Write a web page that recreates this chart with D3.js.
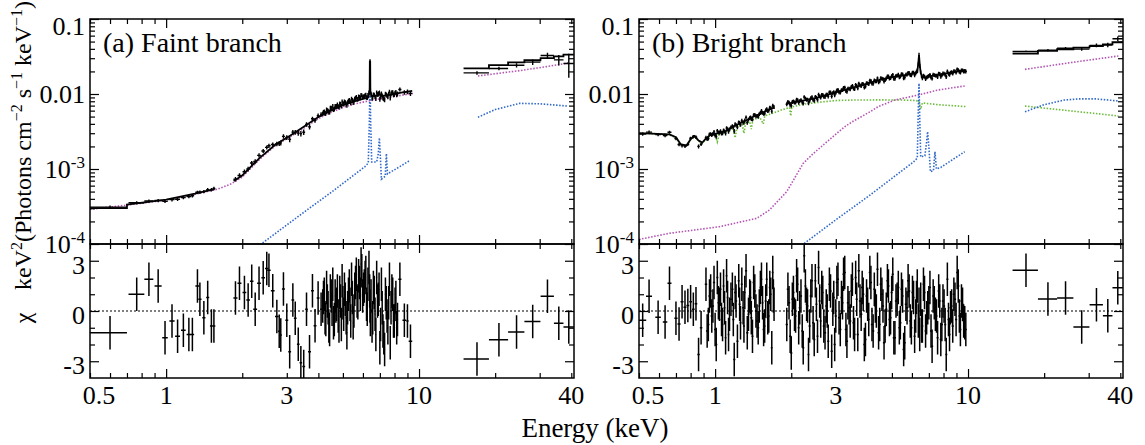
<!DOCTYPE html>
<html>
<head>
<meta charset="utf-8">
<script src="https://cdn.jsdelivr.net/npm/d3@7"></script>
<style>
  body { margin: 0; background: #fff; }
  .serif { font-family: 'Liberation Serif', 'Times New Roman', 'DejaVu Serif', serif; fill: #000; }
</style>
</head>
<body>
<svg id="chart" width="1145" height="445"></svg>
<script>
var FONT = "'Liberation Serif', 'Times New Roman', 'DejaVu Serif', serif";

// axis ranges
var energyDomain = [0.5, 41];
var fluxDomain = [1e-4, 0.1];
var chiDomain = [-4, 4];

// tick labels
var xTickValues = [0.5, 1, 3, 10, 40];
var xTickText = ["0.5", "1", "3", "10", "40"];
var yTickValues = [0.1, 0.01, 1e-3, 1e-4];
var yTickText = [["0.1", ""], ["0.01", ""], ["10", "-3"], ["10", "-4"]];
var chiTickValues = [3, 0, -3];
var chiTickText = ["3", "0", "-3"];

// data rows: [energy, half bin width, flux, flux error, chi]
var faintXisLo = [
  [0.60,0.10,3.1e-4,1.6e-5,-1.3],[0.765,0.055,3.55e-4,1.7e-5,1.0],[0.855,0.035,3.75e-4,1.8e-5,1.9],
  [0.93,0.03,3.8e-4,1.9e-5,1.5],[0.99,0.025,3.7e-4,1.9e-5,-1.6],[1.055,0.025,3.9e-4,2e-5,-0.6],
  [1.11,0.025,3.95e-4,2e-5,-1.5],[1.17,0.025,4.15e-4,2.1e-5,-1.15],[1.23,0.025,4.3e-4,2.2e-5,-1.4],
  [1.27,0.02,4.4e-4,2.3e-5,-1.4],[1.33,0.025,4.9e-4,2.4e-5,1.5],[1.36,0.02,4.9e-4,2.5e-5,0.7],
  [1.41,0.02,5.0e-4,2.6e-5,-0.4],[1.46,0.02,5.3e-4,2.7e-5,0.8],[1.51,0.02,5.3e-4,2.8e-5,-0.9],
  [1.545,0.02,5.5e-4,2.9e-5,-0.9]
];
var faintXisHi = [
  [1.88,0.035,7.3e-4,5e-5,0.77],[1.95,0.035,8.2e-4,5.5e-5,1.66],[2.04,0.035,9.2e-4,6.2e-5,1.1],
  [2.11,0.035,1.0e-3,7e-5,0.66],[2.18,0.035,1.2e-3,7.8e-5,1.77],[2.25,0.04,1.26e-3,8.8e-5,0.11],
  [2.33,0.04,1.52e-3,1e-4,1.66],[2.42,0.04,1.74e-3,1.1e-4,1.99],[2.50,0.04,1.94e-3,1.2e-4,2.54],
  [2.55,0.04,2.04e-3,1.3e-4,2.43],[2.64,0.045,2.12e-3,1.4e-4,1.21],[2.74,0.045,2.16e-3,1.55e-4,-0.33],
  [2.80,0.03,2.18e-3,1.6e-4,-1.21],[2.84,0.03,2.23e-3,1.7e-4,-1.43],[2.91,0.04,2.72e-3,1.8e-4,1.32],
  [3.00,0.04,2.63e-3,1.9e-4,-0.55],[3.08,0.04,2.48e-3,2e-4,-2.43],[3.17,0.04,3.1e-3,2.1e-4,0.66],
  [3.24,0.04,3.08e-3,2.2e-4,-0.44],[3.33,0.04,3.02e-3,2.35e-4,-1.99],[3.41,0.04,2.96e-3,2.45e-4,-3.09],
  [3.50,0.045,3.09e-3,2.6e-4,-3.31],[3.59,0.045,3.92e-3,2.7e-4,0.11],[3.69,0.05,3.65e-3,2.9e-4,-2.43],
  [3.79,0.05,4.67e-3,3.1e-4,1.21],[3.88,0.05,4.45e-3,3.25e-4,-0.88],[3.99,0.05,5.14e-3,3.5e-4,0.77],
  [4.10,0.04,5.33e-3,3.7e-4,0.11],[4.16,0.03,5.48e-3,3.8e-4,0.3],[4.22,0.03,5.83e-3,3.9e-4,1.0],
  [4.28,0.03,5.56e-3,4e-4,-0.5],[4.34,0.03,6.03e-3,4.1e-4,0.6],[4.40,0.03,5.73e-3,4.2e-4,-0.9],
  [4.46,0.03,6.52e-3,4.3e-4,1.2],[4.53,0.03,6.33e-3,4.4e-4,0.1],[4.59,0.03,6.22e-3,4.5e-4,-0.7],
  [4.66,0.035,6.9e-3,4.6e-4,0.9],[4.72,0.035,6.88e-3,4.7e-4,0.4],[4.79,0.035,6.8e-3,4.8e-4,-0.3],
  [4.86,0.035,7.44e-3,4.9e-4,1.1],[4.93,0.035,6.91e-3,5e-4,-0.8],[5.00,0.035,7.53e-3,5.1e-4,0.5],
  [5.07,0.035,7.93e-3,5.2e-4,1.3],[5.15,0.04,7.4e-3,5.3e-4,-0.4],[5.22,0.04,7.73e-3,5.35e-4,0.2],
  [5.30,0.04,8.33e-3,5.4e-4,1.5],[5.37,0.04,7.61e-3,5.5e-4,-0.6],[5.45,0.04,8.27e-3,5.6e-4,0.8],
  [5.53,0.04,8.05e-3,5.6e-4,0.0],[5.61,0.04,8.84e-3,5.7e-4,1.7],[5.69,0.04,8.5e-3,5.8e-4,0.6],
  [5.77,0.04,9.23e-3,5.8e-4,2.1],[5.86,0.045,8.87e-3,5.9e-4,1.0],[5.94,0.045,9.58e-3,6e-4,2.4],
  [6.03,0.045,9.21e-3,6.1e-4,1.3],[6.12,0.045,9.63e-3,6.1e-4,2.0],[6.20,0.04,9.03e-3,6.2e-4,0.4],
  [6.28,0.04,9.67e-3,6.3e-4,1.6],[6.34,0.02,1.05e-2,6.5e-4,2.6],[6.38,0.02,1.11e-2,7e-4,1.2],
  [6.40,0.01,2.74e-2,1.6e-3,0.3],[6.42,0.02,1.12e-2,7.5e-4,-0.5],[6.46,0.02,9.82e-3,6.6e-4,0.9],
  [6.52,0.04,8.79e-3,6.4e-4,-0.9],[6.60,0.045,9.84e-3,6.4e-4,1.4],[6.70,0.05,9.21e-3,6.5e-4,-0.2],
  [6.80,0.05,1.045e-2,6.6e-4,2.0],[6.90,0.05,1.004e-2,6.8e-4,0.7],[7.00,0.05,8.54e-3,6.7e-4,-2.2],
  [7.10,0.05,1.015e-2,6.6e-4,1.6],[7.20,0.05,8.84e-3,6.6e-4,-1.2],[7.31,0.055,8.41e-3,6.6e-4,-2.3],
  [7.42,0.055,9.84e-3,6.7e-4,0.5],[7.53,0.055,9.22e-3,6.8e-4,-1.0],[7.64,0.055,1.073e-2,6.9e-4,1.9],
  [7.75,0.055,9.99e-3,6.9e-4,0.2],[7.87,0.06,1.05e-2,7e-4,1.0],[7.98,0.06,9.8e-3,7.1e-4,-0.6],
  [8.10,0.06,1.061e-2,7.1e-4,0.8],[8.22,0.06,1.004e-2,7.2e-4,-0.5],[8.40,0.12,1.15e-2,7.4e-4,1.9],
  [8.75,0.15,1.05e-2,7.6e-4,-0.55],[9.00,0.1,1.07e-2,7.7e-4,-0.6],[9.25,0.15,1.02e-2,7.8e-4,-1.8]
];
var faintXisHiB = [
  [4.19,0.03,5.72e-3,3.85e-4,0.8],[4.25,0.03,5.49e-3,3.9e-4,-0.4],[4.31,0.03,6.21e-3,4.05e-4,1.4],
  [4.37,0.03,5.96e-3,4.1e-4,0.2],[4.43,0.03,5.76e-3,4.25e-4,-1.1],[4.495,0.03,6.53e-3,4.4e-4,0.9],
  [4.56,0.03,6.91e-3,4.5e-4,1.6],[4.625,0.03,6.34e-3,4.55e-4,-0.5],[4.69,0.035,6.8e-3,4.7e-4,0.3],
  [4.755,0.035,7.21e-3,4.75e-4,1.2],[4.825,0.035,6.69e-3,4.9e-4,-0.9],[4.895,0.035,7.31e-3,5e-4,0.6],
  [4.965,0.035,7.96e-3,5.1e-4,1.8],[5.035,0.035,7.33e-3,5.2e-4,-0.2],[5.11,0.04,7.76e-3,5.25e-4,0.7],
  [5.185,0.04,7.11e-3,5.3e-4,-1.3],[5.26,0.04,8.09e-3,5.4e-4,1.0],[5.335,0.04,7.96e-3,5.45e-4,0.4],
  [5.41,0.04,8.65e-3,5.5e-4,1.9],[5.49,0.04,7.72e-3,5.6e-4,-0.7],[5.57,0.04,8.63e-3,5.7e-4,1.3],
  [5.65,0.04,9.1e-3,5.75e-4,2.2],[5.73,0.04,8.51e-3,5.8e-4,0.5],[5.815,0.045,9.11e-3,5.9e-4,1.7],
  [5.90,0.045,9.69e-3,5.95e-4,2.8],[5.985,0.045,8.99e-3,6e-4,0.9],[6.075,0.045,9.35e-3,6.1e-4,1.5],
  [6.16,0.04,9.81e-3,6.15e-4,2.3],[6.24,0.04,8.94e-3,6.2e-4,0.1],[6.56,0.045,9.02e-3,6.45e-4,-0.4],
  [6.65,0.045,9.76e-3,6.5e-4,1.1],[6.75,0.05,8.74e-3,6.6e-4,-1.4],[6.85,0.05,9.89e-3,6.7e-4,0.6],
  [6.95,0.05,1.028e-2,6.75e-4,1.3],[7.05,0.05,9.12e-3,6.65e-4,-0.8],[7.15,0.05,9.49e-3,6.6e-4,0.2],
  [7.255,0.055,8.69e-3,6.6e-4,-1.6],[7.365,0.055,1.003e-2,6.7e-4,1.0],[7.475,0.055,9.51e-3,6.75e-4,-0.3],
  [7.585,0.055,1.0e-2,6.8e-4,0.5],[7.695,0.055,8.91e-3,6.9e-4,-1.9],[7.81,0.06,1.055e-2,7e-4,1.2],
  [7.925,0.06,9.75e-3,7e-4,-0.6],[8.04,0.06,1.035e-2,7.1e-4,0.4],[8.16,0.06,9.74e-3,7.2e-4,-1.0]
];
var faintHxd = [
  [16.95,1.95,0.0191,0.001,-2.87],[20.7,1.8,0.0219,0.0012,-1.72],[24.3,1.8,0.0242,0.0016,-1.26],
  [28.15,2.05,0.0266,0.0022,-0.62],[32.2,1.95,0.0326,0.003,0.88],[35.7,1.55,0.0285,0.0045,-0.73],
  [39.1,1.85,0.0255,0.009,-0.95]
];
var faintHxdModel = [0.022, 0.0242, 0.0264, 0.0282, 0.030, 0.0318, 0.0335];

var brightXisLo = [
  [0.517,0.017,2.92e-3,1.5e-4,-0.55],[0.548,0.015,3.1e-3,1.5e-4,0.88],[0.595,0.015,2.87e-3,1.45e-4,-0.38],
  [0.634,0.013,2.8e-3,1.45e-4,-0.66],[0.66,0.012,3.09e-3,1.45e-4,1.66],[0.70,0.01,2.55e-3,1.35e-4,-0.44],
  [0.72,0.01,2.12e-3,1.15e-4,-0.77],[0.74,0.01,2.05e-3,1.1e-4,0.55],[0.76,0.01,2.02e-3,1.1e-4,0.22],
  [0.78,0.01,2.13e-3,1.1e-4,0.33],[0.80,0.01,2.57e-3,1.3e-4,0.55],[0.82,0.01,2.71e-3,1.4e-4,0.11],
  [0.84,0.01,2.66e-3,1.4e-4,0.44],[0.86,0.01,2.0e-3,1.2e-4,-2.6],[0.88,0.01,2.14e-3,1.2e-4,-1.0],
  [0.92,0.01,2.62e-3,1.5e-4,1.6],[0.94,0.01,2.55e-3,1.6e-4,-0.8],[0.96,0.01,2.92e-3,1.7e-4,1.2],
  [0.98,0.01,2.93e-3,1.75e-4,0.3],[1.00,0.01,2.81e-3,1.8e-4,-1.1],[1.02,0.01,3.24e-3,1.8e-4,2.0],
  [1.04,0.01,3.05e-3,1.8e-4,0.4],[1.06,0.01,2.99e-3,1.85e-4,-0.5],[1.08,0.01,3.29e-3,1.9e-4,1.5],
  [1.10,0.01,2.99e-3,1.95e-4,-1.6],[1.12,0.01,3.40e-3,2e-4,0.8],[1.14,0.01,3.37e-3,2.05e-4,-0.2],
  [1.17,0.012,3.75e-3,2.15e-4,1.3],[1.19,0.012,3.2e-3,2.2e-4,-2.9],[1.21,0.012,3.84e-3,2.25e-4,0.6],
  [1.24,0.012,4.2e-3,2.35e-4,1.8],[1.26,0.012,3.89e-3,2.4e-4,-0.7],[1.29,0.012,4.18e-3,2.5e-4,0.2],
  [1.31,0.012,4.45e-3,2.55e-4,1.1],[1.34,0.014,4.17e-3,2.65e-4,-1.3],[1.37,0.014,4.77e-3,2.75e-4,0.9],
  [1.39,0.014,4.63e-3,2.8e-4,-0.4],[1.42,0.014,5.23e-3,2.95e-4,1.7],[1.45,0.014,5.05e-3,3e-4,0.0],
  [1.48,0.014,4.99e-3,3.1e-4,-1.0],[1.51,0.014,5.61e-3,3.2e-4,1.4],[1.54,0.014,5.6e-3,3.3e-4,0.5],
  [1.57,0.015,5.5e-3,3.4e-4,-0.9],[1.60,0.015,6.3e-3,3.55e-4,1.9],[1.63,0.015,6.05e-3,3.65e-4,-0.3],
  [1.66,0.015,6.5e-3,3.8e-4,1.0],[1.69,0.015,7.0e-3,3.9e-4,2.3],[1.71,0.01,6.7e-3,4e-4,0.4]
];
var brightXisLoB = [
  [0.93,0.01,2.52e-3,1.6e-4,-1.2],[0.95,0.01,2.9e-3,1.7e-4,0.9],[0.97,0.01,2.84e-3,1.7e-4,-0.3],
  [0.99,0.01,3.13e-3,1.75e-4,1.7],[1.01,0.01,2.72e-3,1.8e-4,-2.0],[1.03,0.01,3.06e-3,1.8e-4,0.5],
  [1.05,0.01,3.21e-3,1.85e-4,1.3],[1.07,0.01,3.0e-3,1.85e-4,-0.8],[1.09,0.01,3.18e-3,1.9e-4,0.2],
  [1.11,0.01,3.52e-3,1.95e-4,2.1],[1.13,0.01,3.16e-3,2e-4,-1.4],[1.155,0.012,3.6e-3,2.1e-4,0.7],
  [1.18,0.012,3.58e-3,2.2e-4,-0.5],[1.20,0.012,3.97e-3,2.3e-4,1.1],[1.225,0.012,3.62e-3,2.35e-4,-1.8],
  [1.25,0.012,4.11e-3,2.4e-4,0.4],[1.275,0.012,4.42e-3,2.5e-4,1.6],[1.30,0.012,4.15e-3,2.6e-4,-0.9],
  [1.325,0.013,4.88e-3,2.7e-4,2.4],[1.355,0.013,4.56e-3,2.75e-4,-0.2],[1.38,0.013,4.9e-3,2.85e-4,0.8],
  [1.405,0.014,4.61e-3,2.95e-4,-1.5],[1.435,0.014,5.29e-3,3e-4,1.2],[1.465,0.014,5.08e-3,3.1e-4,-0.6],
  [1.495,0.014,5.41e-3,3.2e-4,0.3],[1.525,0.014,5.97e-3,3.3e-4,1.9],[1.555,0.015,5.45e-3,3.4e-4,-1.1],
  [1.585,0.015,6.04e-3,3.5e-4,0.6],[1.615,0.015,5.95e-3,3.6e-4,-0.4],[1.645,0.015,6.6e-3,3.75e-4,1.4],
  [1.675,0.015,5.88e-3,3.9e-4,-2.2],[1.70,0.01,6.79e-3,3.9e-4,0.9]
];
var brightXisHi = [
  [1.92,0.02,7.3e-3,4.5e-4,-0.8],[1.96,0.02,7.7e-3,4.5e-4,0.5],[2.00,0.02,7.0e-3,4.6e-4,-2.5],
  [2.04,0.02,8.0e-3,4.6e-4,1.1],[2.08,0.02,7.7e-3,4.7e-4,-0.3],[2.12,0.02,8.3e-3,4.75e-4,1.6],
  [2.16,0.02,8.05e-3,4.8e-4,0.2],[2.21,0.022,7.8e-3,4.85e-4,-1.2],[2.25,0.022,9.1e-3,4.9e-4,3.3],
  [2.30,0.022,8.4e-3,5e-4,0.4],[2.34,0.022,7.6e-3,5e-4,-2.6],[2.39,0.024,8.8e-3,5.1e-4,0.9],
  [2.44,0.024,8.4e-3,5.15e-4,-0.7],[2.49,0.024,9.2e-3,5.2e-4,1.8],[2.54,0.024,8.4e-3,5.35e-4,-1.5],
  [2.59,0.025,9.3e-3,5.45e-4,0.6],[2.64,0.025,9.75e-3,5.6e-4,1.4],[2.69,0.026,9.2e-3,5.7e-4,-0.9],
  [2.75,0.027,9.8e-3,5.8e-4,0.3],[2.80,0.028,9.3e-3,5.95e-4,-1.8],[2.86,0.03,1.05e-2,6e-4,1.2],
  [2.92,0.03,1.03e-2,6.2e-4,0.1],[2.97,0.03,9.7e-3,6.25e-4,-2.0],[3.03,0.03,1.12e-2,6.35e-4,1.7],
  [3.09,0.03,1.06e-2,6.5e-4,-0.4],[3.16,0.032,1.13e-2,6.6e-4,0.8],[3.22,0.032,1.21e-2,6.7e-4,2.2],
  [3.29,0.034,1.10e-2,6.85e-4,-1.1],[3.35,0.034,1.18e-2,7e-4,0.5],[3.42,0.035,1.16e-2,7.1e-4,-0.6],
  [3.49,0.035,1.29e-2,7.25e-4,1.9],[3.56,0.035,1.17e-2,7.4e-4,-1.4],[3.63,0.036,1.28e-2,7.5e-4,0.7],
  [3.70,0.038,1.38e-2,7.6e-4,2.4],[3.78,0.04,1.28e-2,7.75e-4,-0.2],[3.85,0.04,1.36e-2,7.9e-4,1.0],
  [3.93,0.04,1.26e-2,8e-4,-1.7],[4.01,0.04,1.39e-2,8.2e-4,0.4],[4.09,0.04,1.51e-2,8.4e-4,2.3],
  [4.17,0.042,1.38e-2,8.5e-4,-0.8],[4.26,0.044,1.52e-2,8.7e-4,1.3],[4.34,0.044,1.48e-2,8.9e-4,0.0],
  [4.43,0.045,1.44e-2,9.05e-4,-1.3],[4.52,0.045,1.63e-2,9.25e-4,1.6],[4.61,0.046,1.59e-2,9.4e-4,0.3],
  [4.70,0.048,1.54e-2,9.55e-4,-0.9],[4.80,0.05,1.72e-2,9.7e-4,1.8],[4.89,0.05,1.61e-2,9.85e-4,-0.5],
  [4.99,0.05,1.73e-2,1e-3,1.1],[5.09,0.05,1.60e-2,1.01e-3,-1.6],[5.19,0.052,1.75e-2,1.03e-3,0.6],
  [5.30,0.054,1.81e-2,1.04e-3,1.4],[5.40,0.055,1.71e-2,1.05e-3,-0.7],[5.51,0.056,1.83e-2,1.06e-3,0.9],
  [5.62,0.057,1.67e-2,1.07e-3,-1.9],[5.74,0.058,1.82e-2,1.09e-3,0.2],[5.85,0.06,1.91e-2,1.1e-3,1.2],
  [5.97,0.06,1.78e-2,1.11e-3,-1.0],[6.09,0.06,1.93e-2,1.13e-3,0.8],[6.21,0.05,1.89e-2,1.15e-3,-0.3],
  [6.30,0.035,2.06e-2,1.2e-3,1.5],[6.36,0.025,2.50e-2,1.5e-3,-0.6],[6.40,0.02,3.35e-2,2e-3,0.4],
  [6.44,0.025,2.38e-2,1.5e-3,-1.4],[6.50,0.04,1.95e-2,1.15e-3,0.7],[6.60,0.06,1.63e-2,1.0e-3,-0.9],
  [6.73,0.065,1.71e-2,1e-3,1.1],[6.86,0.065,1.66e-2,1e-3,-0.4],[7.00,0.07,1.74e-2,1.03e-3,0.5],
  [7.14,0.07,1.66e-2,1.04e-3,-1.2],[7.28,0.07,1.81e-2,1.05e-3,0.9],[7.43,0.075,1.76e-2,1.06e-3,-0.2],
  [7.58,0.075,1.69e-2,1.07e-3,-1.6],[7.73,0.075,1.85e-2,1.09e-3,0.6],[7.88,0.08,1.78e-2,1.1e-3,-0.8],
  [8.04,0.08,1.87e-2,1.11e-3,0.3],[8.20,0.08,1.70e-2,1.12e-3,-2.6],[8.37,0.085,1.86e-2,1.13e-3,-0.5],
  [8.53,0.085,1.93e-2,1.15e-3,0.2],[8.70,0.09,1.88e-2,1.16e-3,-0.9],[8.88,0.09,2.01e-2,1.18e-3,0.7],
  [9.06,0.09,2.14e-2,1.19e-3,2.3],[9.24,0.09,1.98e-2,1.2e-3,-0.3],[9.42,0.095,2.07e-2,1.22e-3,0.6],
  [9.61,0.095,2.00e-2,1.23e-3,-0.6],[9.80,0.1,2.00e-2,1.25e-3,-1.1]
];
var brightXisHiB = [
  [1.94,0.02,7.89e-3,4.5e-4,1.3],[1.98,0.02,7.2e-3,4.6e-4,-1.5],[2.02,0.02,7.84e-3,4.6e-4,0.7],
  [2.06,0.02,7.7e-3,4.65e-4,-0.2],[2.10,0.02,8.43e-3,4.7e-4,2.1],[2.14,0.02,7.67e-3,4.8e-4,-1.0],
  [2.185,0.022,8.3e-3,4.8e-4,0.9],[2.23,0.022,7.52e-3,4.9e-4,-2.2],[2.275,0.022,8.68e-3,5e-4,1.5],
  [2.32,0.022,8.44e-3,5e-4,0.3],[2.365,0.024,8.18e-3,5.1e-4,-0.9],[2.415,0.024,9.09e-3,5.1e-4,1.8],
  [2.465,0.024,8.14e-3,5.2e-4,-1.7],[2.515,0.024,8.92e-3,5.3e-4,0.4],[2.565,0.025,9.82e-3,5.4e-4,2.6],
  [2.615,0.025,9.0e-3,5.5e-4,-0.6],[2.665,0.025,9.76e-3,5.6e-4,1.1],[2.72,0.027,9.16e-3,5.8e-4,-1.3],
  [2.775,0.027,9.8e-3,5.9e-4,0.0],[2.83,0.028,1.056e-2,6e-4,1.6],[2.89,0.03,9.34e-3,6.1e-4,-2.4],
  [2.945,0.03,1.064e-2,6.2e-4,0.8],[3.0,0.03,1.039e-2,6.3e-4,-0.3],[3.06,0.03,1.141e-2,6.4e-4,1.9],
  [3.125,0.032,1.048e-2,6.5e-4,-1.1],[3.19,0.032,1.129e-2,6.7e-4,0.5],[3.255,0.034,1.221e-2,6.8e-4,2.3],
  [3.32,0.034,1.078e-2,6.9e-4,-1.8],[3.385,0.035,1.178e-2,7e-4,0.2],[3.455,0.035,1.245e-2,7.2e-4,1.2],
  [3.525,0.035,1.19e-2,7.3e-4,-0.7],[3.595,0.036,1.327e-2,7.4e-4,2.0],[3.665,0.037,1.198e-2,7.6e-4,-1.4],
  [3.74,0.038,1.307e-2,7.7e-4,0.6],[3.815,0.04,1.364e-2,7.8e-4,1.4],[3.89,0.04,1.232e-2,8e-4,-2.0],
  [3.97,0.04,1.393e-2,8.1e-4,0.9],[4.05,0.04,1.361e-2,8.3e-4,-0.5],[4.13,0.042,1.494e-2,8.5e-4,1.7],
  [4.215,0.043,1.375e-2,8.6e-4,-1.2],[4.30,0.044,1.48e-2,8.8e-4,0.3],[4.385,0.045,1.626e-2,9e-4,2.5],
  [4.475,0.045,1.482e-2,9.2e-4,-0.8],[4.565,0.046,1.609e-2,9.3e-4,1.0],[4.655,0.047,1.475e-2,9.5e-4,-1.9],
  [4.75,0.048,1.61e-2,9.6e-4,0.1],[4.845,0.05,1.716e-2,9.8e-4,1.5],[4.94,0.05,1.632e-2,9.9e-4,-0.4],
  [5.04,0.05,1.809e-2,1e-3,2.2],[5.14,0.051,1.605e-2,1.02e-3,-1.6],[5.245,0.053,1.762e-2,1.03e-3,0.7],
  [5.35,0.054,1.679e-2,1.04e-3,-1.0],[5.455,0.055,1.84e-2,1.06e-3,1.3],[5.565,0.056,1.628e-2,1.06e-3,-2.3],
  [5.68,0.057,1.815e-2,1.07e-3,0.4],[5.795,0.058,1.924e-2,1.09e-3,1.8],[5.91,0.06,1.792e-2,1.1e-3,-0.6],
  [6.03,0.06,1.932e-2,1.12e-3,1.1],[6.15,0.06,1.791e-2,1.13e-3,-1.5],[6.255,0.045,1.984e-2,1.16e-3,0.8],
  [6.55,0.05,1.724e-2,1.07e-3,-0.9],[6.665,0.06,1.764e-2,1e-3,1.6],[6.795,0.065,1.59e-2,1e-3,-1.2],
  [6.93,0.065,1.702e-2,1.01e-3,0.2],[7.07,0.07,1.804e-2,1.03e-3,1.4],[7.21,0.07,1.612e-2,1.04e-3,-2.1],
  [7.355,0.072,1.791e-2,1.06e-3,0.5],[7.505,0.075,1.761e-2,1.07e-3,-0.3],[7.655,0.075,1.876e-2,1.08e-3,1.2],
  [7.805,0.078,1.712e-2,1.09e-3,-1.7],[7.96,0.08,1.879e-2,1.1e-3,0.6],[8.12,0.08,1.808e-2,1.12e-3,-0.8],
  [8.285,0.082,2.005e-2,1.13e-3,1.9],[8.45,0.085,1.816e-2,1.15e-3,-1.4],[8.615,0.086,1.95e-2,1.16e-3,0.3],
  [8.79,0.088,2.018e-2,1.17e-3,1.0],[8.97,0.09,1.936e-2,1.18e-3,-0.5],[9.15,0.09,2.094e-2,1.19e-3,1.5],
  [9.33,0.09,1.933e-2,1.2e-3,-1.1],[9.515,0.095,2.069e-2,1.22e-3,0.4],[9.705,0.095,2.01e-2,1.24e-3,-0.7]
];
var brightHxd = [
  [16.95,1.95,0.0369,0.001,2.43],[20.7,1.8,0.0384,0.0013,0.71],[24.3,1.8,0.0407,0.0016,0.77],
  [28.15,2.05,0.0396,0.002,-0.95],[32.2,1.95,0.0445,0.0025,0.38],[35.7,1.55,0.0451,0.003,-0.29],
  [39.1,1.85,0.0546,0.004,1.39]
];
var brightHxdModel = [0.0345, 0.0375, 0.0395, 0.0415, 0.0435, 0.046, 0.049];

// total model through the XIS band: [energy, flux]
var faintTotalLo = [[0.5,3.0e-4],[0.7,3.0e-4],[0.7,3.35e-4],[1.0,3.9e-4],[1.3,4.7e-4],[1.55,5.4e-4]];
var faintTotalHi = [
  [1.85,6.9e-4],[2.0,8.2e-4],[2.35,1.42e-3],[2.7,2.1e-3],[3.1,2.8e-3],[3.5,3.65e-3],[4.0,4.95e-3],
  [4.5,6.05e-3],[5.0,7.1e-3],[5.5,7.9e-3],[6.0,8.6e-3],[6.3,9.0e-3],[6.38,1.1e-2],[6.39,2.7e-2],
  [6.41,2.7e-2],[6.42,1.1e-2],[6.5,9.4e-3],[6.9,9.5e-3],[6.97,1.05e-2],[7.05,9.4e-3],[7.5,9.6e-3],
  [8.5,1.04e-2],[9.4,1.1e-2]
];
var brightTotalLo = [
  [0.5,3.0e-3],[0.66,2.9e-3],[0.7,2.65e-3],[0.73,2.15e-3],[0.77,2.05e-3],[0.8,2.5e-3],[0.83,2.75e-3],
  [0.86,2.4e-3],[0.89,2.25e-3],[0.92,2.55e-3],[0.95,2.8e-3],[1.0,2.95e-3],[1.1,3.2e-3],[1.2,3.8e-3],
  [1.3,4.3e-3],[1.4,4.9e-3],[1.5,5.4e-3],[1.6,6.0e-3],[1.71,6.6e-3]
];
var brightTotalHi = [
  [1.92,7.5e-3],[2.0,7.6e-3],[2.5,8.8e-3],[3.0,1.05e-2],[3.5,1.22e-2],[4.0,1.38e-2],[4.5,1.55e-2],
  [5.0,1.68e-2],[5.5,1.76e-2],[6.0,1.85e-2],[6.3,1.95e-2],[6.36,2.6e-2],[6.40,3.3e-2],[6.44,2.5e-2],
  [6.5,1.9e-2],[6.6,1.68e-2],[6.75,1.65e-2],[7.0,1.72e-2],[7.6,1.8e-2],[8.5,1.93e-2],[9.8,2.08e-2]
];

// model components: [energy, flux]
var faintMagenta = [
  [0.5,2.9e-4],[0.7,3.3e-4],[1.0,3.85e-4],[1.3,4.6e-4],[1.6,5.4e-4],[1.8,6.3e-4],[2.0,7.8e-4],
  [2.35,1.36e-3],[2.7,2.05e-3],[3.1,2.7e-3],[3.5,3.5e-3],[4.0,4.7e-3],[4.5,5.7e-3],[5.0,6.6e-3],
  [5.5,7.3e-3],[6.0,7.8e-3],[6.5,8.2e-3],[7.0,8.6e-3],[8.0,9.3e-3],[9.5,1.02e-2]
];
var faintMagentaHxd = [[17.1,0.0174],[25,0.0205],[32,0.0232],[39,0.026]];
var faintBlue = [
  [2.3,9.2e-5],[2.83,1.55e-4],[3.5,2.64e-4],[4.5,4.9e-4],[5.5,8.2e-4],[6.1,1.07e-3],[6.3,1.2e-3],
  [6.36,4e-3],[6.40,1.55e-2],[6.44,4e-3],[6.5,1.24e-3],[6.8,1.24e-3],[6.9,1.6e-3],[6.97,2.6e-3],
  [7.03,1.5e-3],[7.1,7.3e-4],[7.35,8.0e-4],[7.43,1.6e-3],[7.5,8.6e-4],[8.3,1.05e-3],[9.2,1.3e-3]
];
var faintBlueHxd = [[17.1,4.9e-3],[20,6.2e-3],[25,7.5e-3],[30,7.4e-3],[35,7.1e-3],[38.8,6.9e-3]];

var brightMagenta = [
  [0.5,1.15e-4],[0.66,1.39e-4],[1.04,1.7e-4],[1.46,2.2e-4],[1.64,2.84e-4],[1.92,5.0e-4],
  [2.23,1.19e-3],[2.44,1.6e-3],[3.03,2.99e-3],[3.27,3.7e-3],[3.5,4.3e-3],[4.1,5.8e-3],
  [4.42,6.8e-3],[5.13,8.3e-3],[6.37,9.7e-3],[7.6,1.13e-2],[9.7,1.28e-2]
];
var brightMagentaHxd = [[16.8,0.0213],[25,0.026],[39.3,0.0321]];
var brightBlue = [
  [2.2,9.6e-5],[3.0,2.1e-4],[4.1,4.5e-4],[5.2,8.3e-4],[6.1,1.25e-3],[6.3,1.4e-3],[6.35,5e-3],
  [6.4,1.39e-2],[6.45,4e-3],[6.5,1.45e-3],[6.75,1.5e-3],[6.85,2.2e-3],[6.92,3.15e-3],[7.0,2e-3],
  [7.1,9.2e-4],[7.3,9.5e-4],[7.4,1.7e-3],[7.5,1.0e-3],[7.8,1.05e-3],[9.7,1.7e-3]
];
var brightBlueHxd = [[16.8,5.8e-3],[20,7.2e-3],[24,8.3e-3],[27.4,8.6e-3],[32,8.6e-3],[39,8.1e-3]];
var brightGreen = [
  [0.5,3.0e-3],[0.6,2.95e-3],[0.66,2.85e-3],[0.7,2.6e-3],[0.73,2.1e-3],[0.77,2.0e-3],[0.8,2.45e-3],
  [0.83,2.7e-3],[0.86,2.35e-3],[0.89,2.2e-3],[0.92,2.5e-3],[0.95,2.75e-3],[1.0,2.9e-3],[1.02,2.3e-3],
  [1.04,2.95e-3],[1.1,3.1e-3],[1.18,3.5e-3],[1.2,2.6e-3],[1.22,3.6e-3],[1.28,3.9e-3],[1.3,3.0e-3],
  [1.32,4.1e-3],[1.37,4.3e-3],[1.39,3.4e-3],[1.41,4.5e-3],[1.5,4.9e-3],[1.55,4.0e-3],[1.57,5.1e-3],
  [1.7,5.6e-3],[1.85,6.2e-3],[1.97,6.6e-3],[1.99,5.1e-3],[2.01,6.7e-3],[2.23,7.3e-3],[2.61,7.8e-3],
  [3.03,8.2e-3],[3.5,8.3e-3],[4.5,8.35e-3],[5.5,8.3e-3],[6.2,8.2e-3],[6.4,8.0e-3],[6.5,6.3e-3],
  [6.6,7.6e-3],[7.6,7.2e-3],[9.8,6.8e-3]
];
var brightGreenHxd = [[16.8,6.9e-3],[39.3,5.1e-3]];

var MAGENTA = "#b455b4", BLUE = "#2f68c8", GREEN = "#6cbc3c";

var svg = d3.select("#chart");
var defs = svg.append("defs");
var TOP = [19, 244], RES = [244, 378], PW = 484;

function addText(sel, size) {
  return sel.append("text").attr("class", "serif").attr("font-family", FONT)
    .attr("font-size", size).attr("fill", "#000");
}

function cross(x, y, r, v, dv) {
  return "M" + x(r[0] - r[1]) + "," + y(v) + "H" + x(r[0] + r[1]) +
         "M" + x(r[0]) + "," + y(v - dv) + "V" + y(v + dv);
}

function drawPanel(p) {
  var x = d3.scaleLog().domain(energyDomain).range([p.x0, p.x0 + PW]);
  var yF = d3.scaleLog().domain(fluxDomain).range([TOP[1], TOP[0]]);
  var yC = d3.scaleLinear().domain(chiDomain).range([RES[1], RES[0]]);

  defs.append("clipPath").attr("id", p.id + "-t").append("rect")
    .attr("x", p.x0).attr("y", TOP[0]).attr("width", PW).attr("height", TOP[1] - TOP[0]);
  defs.append("clipPath").attr("id", p.id + "-r").append("rect")
    .attr("x", p.x0).attr("y", RES[0]).attr("width", PW).attr("height", RES[1] - RES[0]);

  var top = svg.append("g").attr("clip-path", "url(#" + p.id + "-t)");
  var res = svg.append("g").attr("clip-path", "url(#" + p.id + "-r)");

  var line = d3.line().x(function(d){ return x(d[0]); }).y(function(d){ return yF(d[1]); });

  // model components (dotted)
  p.models.forEach(function(m) {
    top.append("path").attr("d", line(m.data)).attr("fill", "none")
      .attr("stroke", m.color).attr("stroke-width", 1.6).attr("stroke-dasharray", "1.5,1.6");
  });

  // total model: solid line over the XIS band, histogram over the HXD band
  p.totals.forEach(function(t) {
    top.append("path").attr("d", line(t)).attr("fill", "none")
      .attr("stroke", "#000").attr("stroke-width", 1.8);
  });
  var stepPts = [];
  p.hxd.forEach(function(r, i) {
    stepPts.push([r[0] - r[1], p.hxdModel[i]]);
    stepPts.push([r[0] + r[1], p.hxdModel[i]]);
  });
  top.append("path").attr("d", line(stepPts)).attr("fill", "none")
    .attr("stroke", "#000").attr("stroke-width", 1.8);

  var rows = p.data.concat(p.hxd);
  top.selectAll(null).data(rows).join("path")
    .attr("d", function(r){ return cross(x, yF, r, r[2], r[3]); })
    .attr("fill", "none").attr("stroke", "#000").attr("stroke-width", 1.4);

  // residuals
  res.append("line").attr("x1", p.x0).attr("x2", p.x0 + PW)
    .attr("y1", yC(0)).attr("y2", yC(0))
    .attr("stroke", "#000").attr("stroke-width", 1.2).attr("stroke-dasharray", "2,2");
  res.selectAll(null).data(rows).join("path")
    .attr("d", function(r){ return cross(x, yC, r, r[4], 1); })
    .attr("fill", "none").attr("stroke", "#000").attr("stroke-width", 1.5);

  // frames
  [TOP, RES].forEach(function(b) {
    svg.append("rect").attr("x", p.x0).attr("y", b[0]).attr("width", PW).attr("height", b[1] - b[0])
      .attr("fill", "none").attr("stroke", "#000").attr("stroke-width", 1.5);
  });

  // ticks
  var xMajor = [1, 10];
  var xMinor = x.ticks().filter(function(v){ return xMajor.indexOf(v) < 0; });
  function xTicks(yPos, dir) {
    [[xMajor, 9], [xMinor, 5]].forEach(function(t) {
      var a = svg.append("g").attr("transform", "translate(0," + yPos + ")")
        .call(d3.axisBottom(x).tickValues(t[0]).tickSize(dir * t[1]).tickFormat(""));
      a.select(".domain").remove();
      a.selectAll("line").attr("stroke-width", 1.2);
    });
  }
  xTicks(TOP[0], 1); xTicks(TOP[1], -1); xTicks(RES[0], 1); xTicks(RES[1], -1);

  var yAll = yF.ticks();
  var yMajor = yAll.filter(function(v){ return Math.abs(Math.log10(v) - Math.round(Math.log10(v))) < 1e-6; });
  var yMinor = yAll.filter(function(v){ return yMajor.indexOf(v) < 0; });
  function yTicks(scale, major, minor) {
    [[p.x0, 1], [p.x0 + PW, -1]].forEach(function(s) {
      [[major, 9], [minor, 5]].forEach(function(t) {
        var a = svg.append("g").attr("transform", "translate(" + s[0] + ",0)")
          .call(d3.axisRight(scale).tickValues(t[0]).tickSize(s[1] * t[1]).tickFormat(""));
        a.select(".domain").remove();
        a.selectAll("line").attr("stroke-width", 1.2);
      });
    });
  }
  yTicks(yF, yMajor, yMinor);
  yTicks(yC, chiTickValues, [-2, -1, 1, 2]);

  // tick labels
  xTickValues.forEach(function(v, i) {
    addText(svg, 26).attr("x", x(v) + (v === 0.5 ? 9 : 0)).attr("y", 404)
      .attr("text-anchor", "middle").text(xTickText[i]);
  });
  yTickValues.forEach(function(v, i) {
    var t = addText(svg, 26).attr("x", p.x0 - 5).attr("y", Math.max(yF(v), 26) + 9)
      .attr("text-anchor", "end");
    t.append("tspan").text(yTickText[i][0]);
    if (yTickText[i][1]) t.append("tspan").attr("font-size", 17).attr("dy", -10).text(yTickText[i][1]);
  });
  chiTickValues.forEach(function(v, i) {
    addText(svg, 26).attr("x", p.x0 - 5).attr("y", yC(v) + 13)
      .attr("text-anchor", "end").text(chiTickText[i]);
  });

  addText(svg, 28).attr("x", p.x0 + 13).attr("y", 52).text(p.label);
}

drawPanel({
  id: "faint", x0: 90, label: "(a) Faint branch",
  data: faintXisLo.concat(faintXisHi, faintXisHiB), hxd: faintHxd, hxdModel: faintHxdModel,
  totals: [faintTotalLo, faintTotalHi],
  models: [
    { data: faintMagenta, color: MAGENTA }, { data: faintMagentaHxd, color: MAGENTA },
    { data: faintBlue, color: BLUE }, { data: faintBlueHxd, color: BLUE }
  ]
});
drawPanel({
  id: "bright", x0: 639, label: "(b) Bright branch",
  data: brightXisLo.concat(brightXisLoB, brightXisHi, brightXisHiB), hxd: brightHxd, hxdModel: brightHxdModel,
  totals: [brightTotalLo, brightTotalHi],
  models: [
    { data: brightGreen, color: GREEN }, { data: brightGreenHxd, color: GREEN },
    { data: brightMagenta, color: MAGENTA }, { data: brightMagentaHxd, color: MAGENTA },
    { data: brightBlue, color: BLUE }, { data: brightBlueHxd, color: BLUE }
  ]
});

// axis titles
var yt = addText(svg, 24).attr("transform", "translate(31,290) rotate(-90)");
yt.append("tspan").text("keV");
yt.append("tspan").attr("font-size", 16).attr("dy", -9).text("2");
yt.append("tspan").attr("dy", 9).text("(Photons cm");
yt.append("tspan").attr("font-size", 16).attr("dy", -9).text("\u22122");
yt.append("tspan").attr("dy", 9).text(" s");
yt.append("tspan").attr("font-size", 16).attr("dy", -9).text("\u22121");
yt.append("tspan").attr("dy", 9).text(" keV");
yt.append("tspan").attr("font-size", 16).attr("dy", -9).text("\u22121");
yt.append("tspan").attr("dy", 9).text(")");

addText(svg, 24).attr("transform", "translate(31,318) rotate(-90)")
  .attr("text-anchor", "middle").text("\u03c7");

addText(svg, 27).attr("x", 595).attr("y", 437).attr("text-anchor", "middle").text("Energy (keV)");
</script>
</body>
</html>
